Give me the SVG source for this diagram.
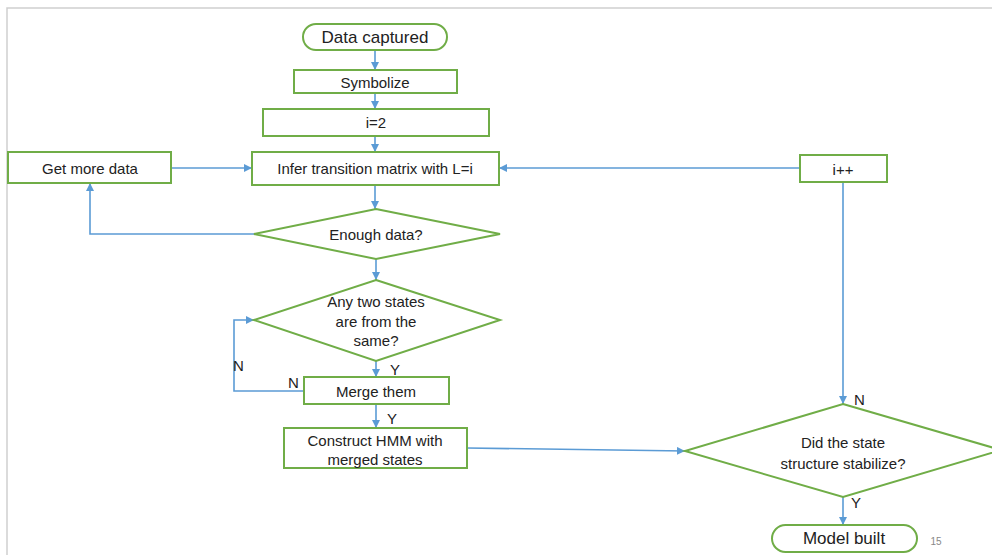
<svg xmlns="http://www.w3.org/2000/svg" width="992" height="555" viewBox="0 0 992 555">
<style>
.n{fill:#fff;stroke:#70ad47;stroke-width:2}
.t{font-family:"Liberation Sans",Arial,sans-serif;font-size:15px;fill:#222;text-anchor:middle;dominant-baseline:central}
.big{font-size:17px}
.lbl{font-family:"Liberation Sans",Arial,sans-serif;font-size:15px;fill:#222;dominant-baseline:central}
.c{fill:none;stroke:#5b9bd5;stroke-width:1.6}
</style>
<defs>
<marker id="ah" viewBox="0 0 10 10" refX="10" refY="5" markerWidth="5" markerHeight="5" orient="auto" markerUnits="strokeWidth">
<path d="M0,0 L10,5 L0,10 z" fill="#5b9bd5"/>
</marker>
</defs>
<rect width="992" height="555" fill="#fff"/>
<path d="M7,555 V8 H992" fill="none" stroke="#cfcfcf" stroke-width="1.5"/>
<g id="connectors">
<path class="c" d="M375,50 V70" marker-end="url(#ah)"/>
<path class="c" d="M375,93 V109" marker-end="url(#ah)"/>
<path class="c" d="M375,136 V152" marker-end="url(#ah)"/>
<path class="c" d="M171,168 H252" marker-end="url(#ah)"/>
<path class="c" d="M800,168 H499" marker-end="url(#ah)"/>
<path class="c" d="M375,185 V209" marker-end="url(#ah)"/>
<path class="c" d="M254,234 H90 V183" marker-end="url(#ah)"/>
<path class="c" d="M376,259 V280" marker-end="url(#ah)"/>
<path class="c" d="M376,361 V377" marker-end="url(#ah)"/>
<path class="c" d="M304,391 H234 V320 H254" marker-end="url(#ah)"/>
<path class="c" d="M376,404 V428" marker-end="url(#ah)"/>
<path class="c" d="M467,448 L685,451" marker-end="url(#ah)"/>
<path class="c" d="M843,182 V404" marker-end="url(#ah)"/>
<path class="c" d="M843,497 V525" marker-end="url(#ah)"/>
<text class="lbl" x="233" y="365">N</text>
<text class="lbl" x="288" y="382">N</text>
<text class="lbl" x="390" y="369">Y</text>
<text class="lbl" x="387" y="418">Y</text>
<text class="lbl" x="854" y="399">N</text>
<text class="lbl" x="851" y="502">Y</text>
</g>
<g id="data-captured">
<rect class="n" x="303" y="24" width="144" height="26" rx="13"/>
<text class="t big" x="375" y="37">Data captured</text>
</g>
<g id="symbolize">
<rect class="n" x="294" y="70" width="163" height="23"/>
<text class="t" x="375" y="82">Symbolize</text>
</g>
<g id="i2">
<rect class="n" x="263" y="109" width="226" height="27"/>
<text class="t" x="376" y="122">i=2</text>
</g>
<g id="get-more-data">
<rect class="n" x="8" y="152" width="163" height="31"/>
<text class="t" x="90" y="168">Get more data</text>
</g>
<g id="infer">
<rect class="n" x="252" y="152" width="247" height="33"/>
<text class="t" x="375" y="168">Infer transition matrix with L=i</text>
</g>
<g id="iplusplus">
<rect class="n" x="800" y="155" width="87" height="27"/>
<text class="t" x="843" y="169">i++</text>
</g>
<g id="enough-data">
<polygon class="n" points="376,209 500,234 376,259 254,234"/>
<text class="t" x="376" y="234">Enough data?</text>
</g>
<g id="any-two-states">
<polygon class="n" points="376,280 500,320 376,361 254,320"/>
<text class="t" x="376" y="301">Any two states</text>
<text class="t" x="376" y="321">are from the</text>
<text class="t" x="376" y="340">same?</text>
</g>
<g id="merge-them">
<rect class="n" x="304" y="377" width="145" height="27"/>
<text class="t" x="376" y="391">Merge them</text>
</g>
<g id="construct-hmm">
<rect class="n" x="284" y="428" width="183" height="40"/>
<text class="t" x="375" y="440">Construct HMM with</text>
<text class="t" x="375" y="459">merged states</text>
</g>
<g id="stabilize">
<polygon class="n" points="843,404 1001,450 843,497 685,451"/>
<text class="t" x="843" y="442">Did the state</text>
<text class="t" x="843" y="463">structure stabilize?</text>
</g>
<g id="model-built">
<rect class="n" x="772" y="525" width="145" height="27" rx="13.5"/>
<text class="t big" x="844" y="538">Model built</text>
</g>
<text x="936" y="541" font-family="Liberation Sans,Arial,sans-serif" font-size="10" fill="#888" text-anchor="middle" dominant-baseline="central">15</text>
</svg>
